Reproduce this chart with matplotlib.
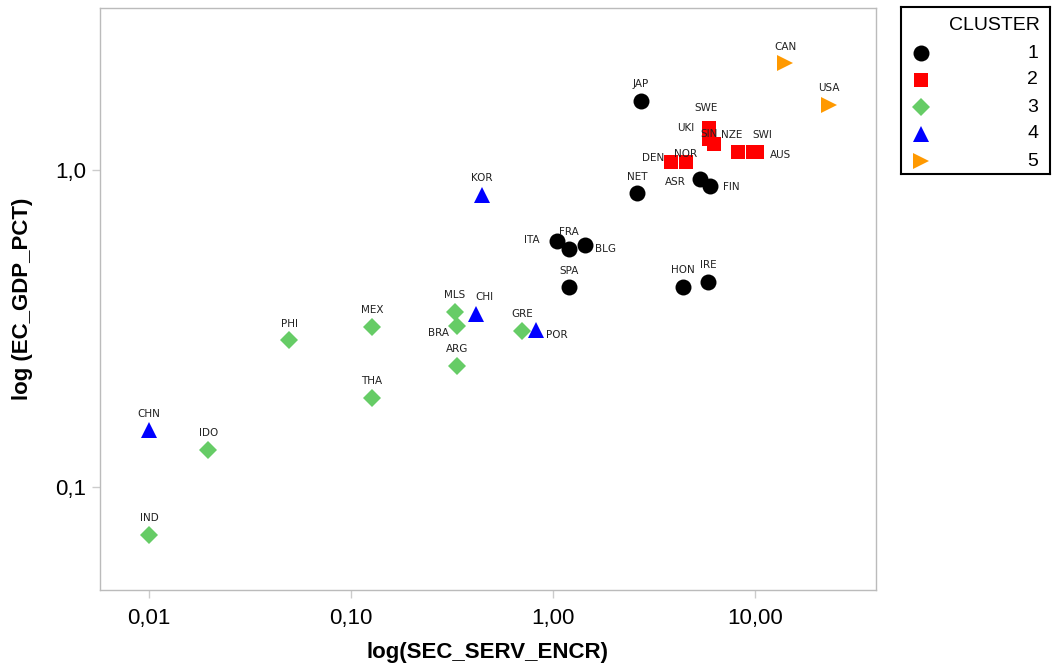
import numpy as np
import matplotlib
matplotlib.use('Agg')
import matplotlib.pyplot as plt
from matplotlib.ticker import FixedLocator, NullLocator

# country codes, cluster, x = SEC_SERV_ENCR, y = EC_GDP_PCT
countries = ['JAP', 'NET', 'ASR', 'FIN', 'ITA', 'FRA', 'BLG', 'SPA', 'HON', 'IRE',
             'SWE', 'UKI', 'SIN', 'NZE', 'SWI', 'AUS', 'DEN', 'NOR',
             'PHI', 'MEX', 'THA', 'MLS', 'BRA', 'GRE', 'ARG', 'IDO', 'IND',
             'KOR', 'CHI', 'POR', 'CHN',
             'CAN', 'USA']
cluster = [1, 1, 1, 1, 1, 1, 1, 1, 1, 1,
           2, 2, 2, 2, 2, 2, 2, 2,
           3, 3, 3, 3, 3, 3, 3, 3, 3,
           4, 4, 4, 4,
           5, 5]
sec_serv = [2.72, 2.60, 5.34, 5.99, 1.05, 1.20, 1.44, 1.20, 4.40, 5.85,
            5.92, 5.92, 6.29, 8.21, 9.77, 10.2, 3.83, 4.54,
            0.0495, 0.127, 0.127, 0.327, 0.333, 0.705, 0.334, 0.0197, 0.0100,
            0.445, 0.416, 0.827, 0.0100,
            14.1, 23.3]
ec_gdp = [1.65, 0.844, 0.935, 0.892, 0.597, 0.563, 0.579, 0.426, 0.427, 0.443,
          1.357, 1.25, 1.21, 1.14, 1.14, 1.14, 1.06, 1.06,
          0.290, 0.320, 0.191, 0.357, 0.322, 0.311, 0.241, 0.131, 0.0707,
          0.834, 0.351, 0.313, 0.151,
          2.17, 1.60]

# label placement (offset in points)
label_offset = {'UKI': (-17, 8), 'SIN': (-4, 7), 'NZE': (-4, 12), 'SWI': (7, 12),
                'AUS': (17, -2), 'DEN': (-13, 3), 'NOR': (0, 6), 'ASR': (-18, -2),
                'FIN': (15, -1), 'ITA': (-18, 1), 'FRA': (0, 12), 'BLG': (15, -3),
                'CHI': (6, 12), 'BRA': (-13, -5), 'POR': (15, -4), 'SWE': (-2, 14)}

cl_ids = [1, 2, 3, 4, 5]
cl_colors = ['black', '#ff0000', '#66cc66', '#0000ff', '#ff9900']
cl_markers = ['o', 's', 'D', '^', '>']
cl_sizes = [11.5, 9.5, 9, 11, 11]

fig = plt.figure(figsize=(10.52, 6.68), dpi=100)
ax = fig.add_axes([100/1052, 78/668, 776/1052, 582/668])

x = np.array(sec_serv)
y = np.array(ec_gdp)
c = np.array(cluster)
for k, col, mk, ms in zip(cl_ids, cl_colors, cl_markers, cl_sizes):
    m = c == k
    ax.plot(x[m], y[m], linestyle='none', marker=mk, color=col, markersize=ms,
            markeredgewidth=0)

for name, xi, yi in zip(countries, sec_serv, ec_gdp):
    off = label_offset.get(name, (0, 12))
    ax.annotate(name, (xi, yi), xytext=off, textcoords='offset points',
                ha='center', va='center', fontsize=7.5, color='#222222',
                family='DejaVu Sans')

ax.set_xscale('log')
ax.set_yscale('log')
ax.set_xlim(0.00572, 39.7)
ax.set_ylim(0.0473, 3.24)

ax.xaxis.set_major_locator(FixedLocator([0.01, 0.1, 1, 10]))
ax.xaxis.set_minor_locator(NullLocator())
ax.yaxis.set_major_locator(FixedLocator([0.1, 1]))
ax.yaxis.set_minor_locator(NullLocator())
ax.set_xticklabels(['0,01', '0,10', '1,00', '10,00'], family='Liberation Sans', fontsize=16)
ax.set_yticklabels(['0,1', '1,0'], family='Liberation Sans', fontsize=16)
ax.tick_params(direction='out', length=6, color='#cccccc', width=1)
ax.tick_params(axis='x', pad=7)
ax.tick_params(axis='y', pad=4)

for s in ax.spines.values():
    s.set_color('#bbbbbb')
    s.set_linewidth(1)

ax.set_xlabel('log(SEC_SERV_ENCR)', fontsize=16, fontweight='bold',
              family='Liberation Sans', labelpad=9)
ax.set_ylabel('log (EC_GDP_PCT)', fontsize=16, fontweight='bold',
              family='Liberation Sans', labelpad=16)

# legend box
lax = fig.add_axes([901/1052, (668-174)/668, 149/1052, 167/668])
lax.set_xlim(0, 149)
lax.set_ylim(167, 0)
lax.set_xticks([])
lax.set_yticks([])
for s in lax.spines.values():
    s.set_color('black')
    s.set_linewidth(1.5)
lax.text(93, 19, 'CLUSTER', ha='center', va='center', fontsize=14,
         family='Liberation Sans')
for i, (k, col, mk, ms) in enumerate(zip(cl_ids, cl_colors, cl_markers, cl_sizes)):
    yy = 46 + i * 27
    lax.plot([20], [yy], marker=mk, color=col, markersize=ms, markeredgewidth=0,
             linestyle='none')
    lax.text(137, yy, str(k), ha='right', va='center', fontsize=14,
             family='Liberation Sans')

fig.savefig('out.png', dpi=100)
